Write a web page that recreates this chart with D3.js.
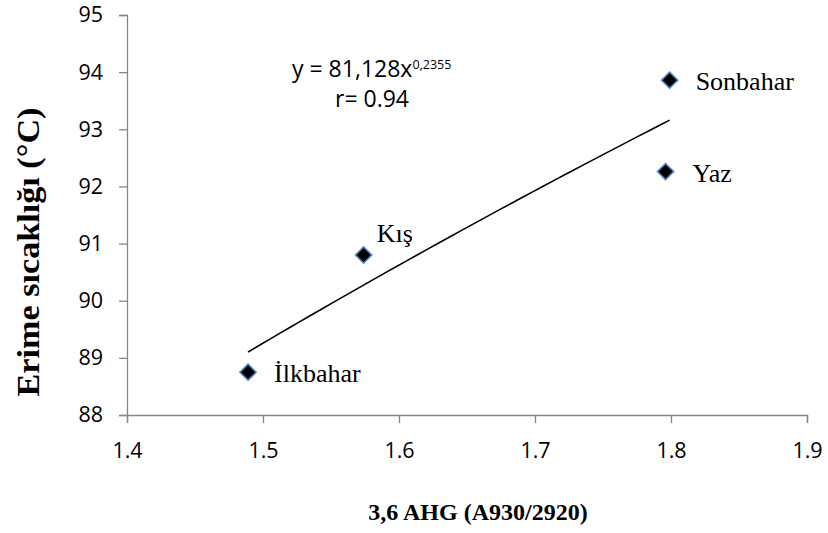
<!DOCTYPE html>
<html>
<head>
<meta charset="utf-8">
<script src="https://cdn.jsdelivr.net/npm/d3@7"></script>
<style>
  body { margin: 0; background: #fff; }
  svg { display: block; }
  .tick text { font-family: "Open Sans", sans-serif; font-size: 21.5px; fill: #000; }
</style>
</head>
<body>
<div id="chart"></div>
<script>
// Seasonal scatter with power trendline

const seasons = ["İlkbahar", "Kış", "Yaz", "Sonbahar"];
const ahg = [1.489, 1.574, 1.796, 1.799];      // 3,6 AHG (A930/2920)
const meltTemp = [88.75, 90.80, 92.26, 93.86]; // Erime sıcaklığı (°C)
const xTicks = [1.4, 1.5, 1.6, 1.7, 1.8, 1.9];
const yTicks = [88, 89, 90, 91, 92, 93, 94, 95];
const fitA = 81.128, fitB = 0.2355, fitR = 0.94;

const width = 828, height = 533,
    margin = ({ top: 15, right: 21, bottom: 118, left: 127 });

const svg = d3.select("#chart")
  .append("svg")
  .attr("width", width)
  .attr("height", height);

const x = d3.scaleLinear()
  .domain([1.4, 1.9])
  .range([margin.left, width - margin.right]);

const y = d3.scaleLinear()
  .domain([88, 95])
  .range([height - margin.bottom, margin.top]);

const axisColor = "#868686";

// x axis
const xAxis = svg.append("g")
  .attr("transform", `translate(0,${height - margin.bottom})`)
  .call(d3.axisBottom(x).tickValues(xTicks).tickFormat(d3.format(".1f"))
    .tickSizeOuter(0).tickSize(8).tickPadding(20));
xAxis.select(".domain").attr("stroke", axisColor).attr("stroke-width", 1.3);
xAxis.selectAll(".tick line").attr("stroke", axisColor).attr("stroke-width", 1.3);

// y axis
const yAxis = svg.append("g")
  .attr("transform", `translate(${margin.left},0)`)
  .call(d3.axisLeft(y).tickValues(yTicks).tickFormat(d3.format("d"))
    .tickSizeOuter(0).tickSize(8).tickPadding(16));
yAxis.select(".domain").attr("stroke", axisColor).attr("stroke-width", 1.3);
yAxis.selectAll(".tick line").attr("stroke", axisColor).attr("stroke-width", 1.3);

// power trendline y = a*x^b over the data range
const [x0, x1] = d3.extent(ahg);
const fitPts = d3.range(0, 41).map(i => {
  const xv = x0 + (x1 - x0) * i / 40;
  return [xv, fitA * Math.pow(xv, fitB)];
});
svg.append("path")
  .datum(fitPts)
  .attr("fill", "none")
  .attr("stroke", "#000")
  .attr("stroke-width", 1.6)
  .attr("d", d3.line().x(d => x(d[0])).y(d => y(d[1])));

// points
const data = seasons.map((s, i) => ({ name: s, x: ahg[i], y: meltTemp[i] }));
const diamond = d3.symbol().type(d3.symbolSquare).size(130);

svg.append("g")
  .selectAll("path")
  .data(data)
  .join("path")
  .attr("d", diamond)
  .attr("transform", d => `translate(${x(d.x)},${y(d.y)}) rotate(45)`)
  .attr("fill", "#000")
  .attr("stroke", "#4f81bd")
  .attr("stroke-width", 1.6);

// point labels
const labelOffset = { "İlkbahar": [26, 10], "Kış": [13, -13], "Yaz": [27, 10], "Sonbahar": [26, 10] };
svg.append("g")
  .selectAll("text")
  .data(data)
  .join("text")
  .attr("x", d => x(d.x) + labelOffset[d.name][0])
  .attr("y", d => y(d.y) + labelOffset[d.name][1])
  .attr("font-family", "'Liberation Serif', 'Times New Roman', serif")
  .attr("font-size", 26)
  .text(d => d.name);

// equation
const eq = svg.append("text")
  .attr("x", 292)
  .attr("y", 77)
  .attr("font-family", "'Open Sans', sans-serif")
  .attr("font-size", 23);
eq.append("tspan").text(`y = ${String(fitA).replace(".", ",")}x`);
eq.append("tspan").attr("dy", -8).attr("font-size", 12.5).text(String(fitB).replace(".", ","));

svg.append("text")
  .attr("x", 372)
  .attr("y", 107)
  .attr("text-anchor", "middle")
  .attr("font-family", "'Open Sans', sans-serif")
  .attr("font-size", 23)
  .text(`r= ${fitR}`);

// axis titles
svg.append("text")
  .attr("x", 478)
  .attr("y", 520)
  .attr("text-anchor", "middle")
  .attr("font-family", "'Liberation Serif', 'Times New Roman', serif")
  .attr("font-weight", "bold")
  .attr("font-size", 24)
  .text("3,6 AHG (A930/2920)");

svg.append("text")
  .attr("transform", "translate(39,252) rotate(-90)")
  .attr("text-anchor", "middle")
  .attr("font-family", "'Liberation Serif', 'Times New Roman', serif")
  .attr("font-weight", "bold")
  .attr("font-size", 32)
  .attr("textLength", 289)
  .attr("lengthAdjust", "spacingAndGlyphs")
  .text("Erime sıcaklığı (°C)");
</script>
</body>
</html>
